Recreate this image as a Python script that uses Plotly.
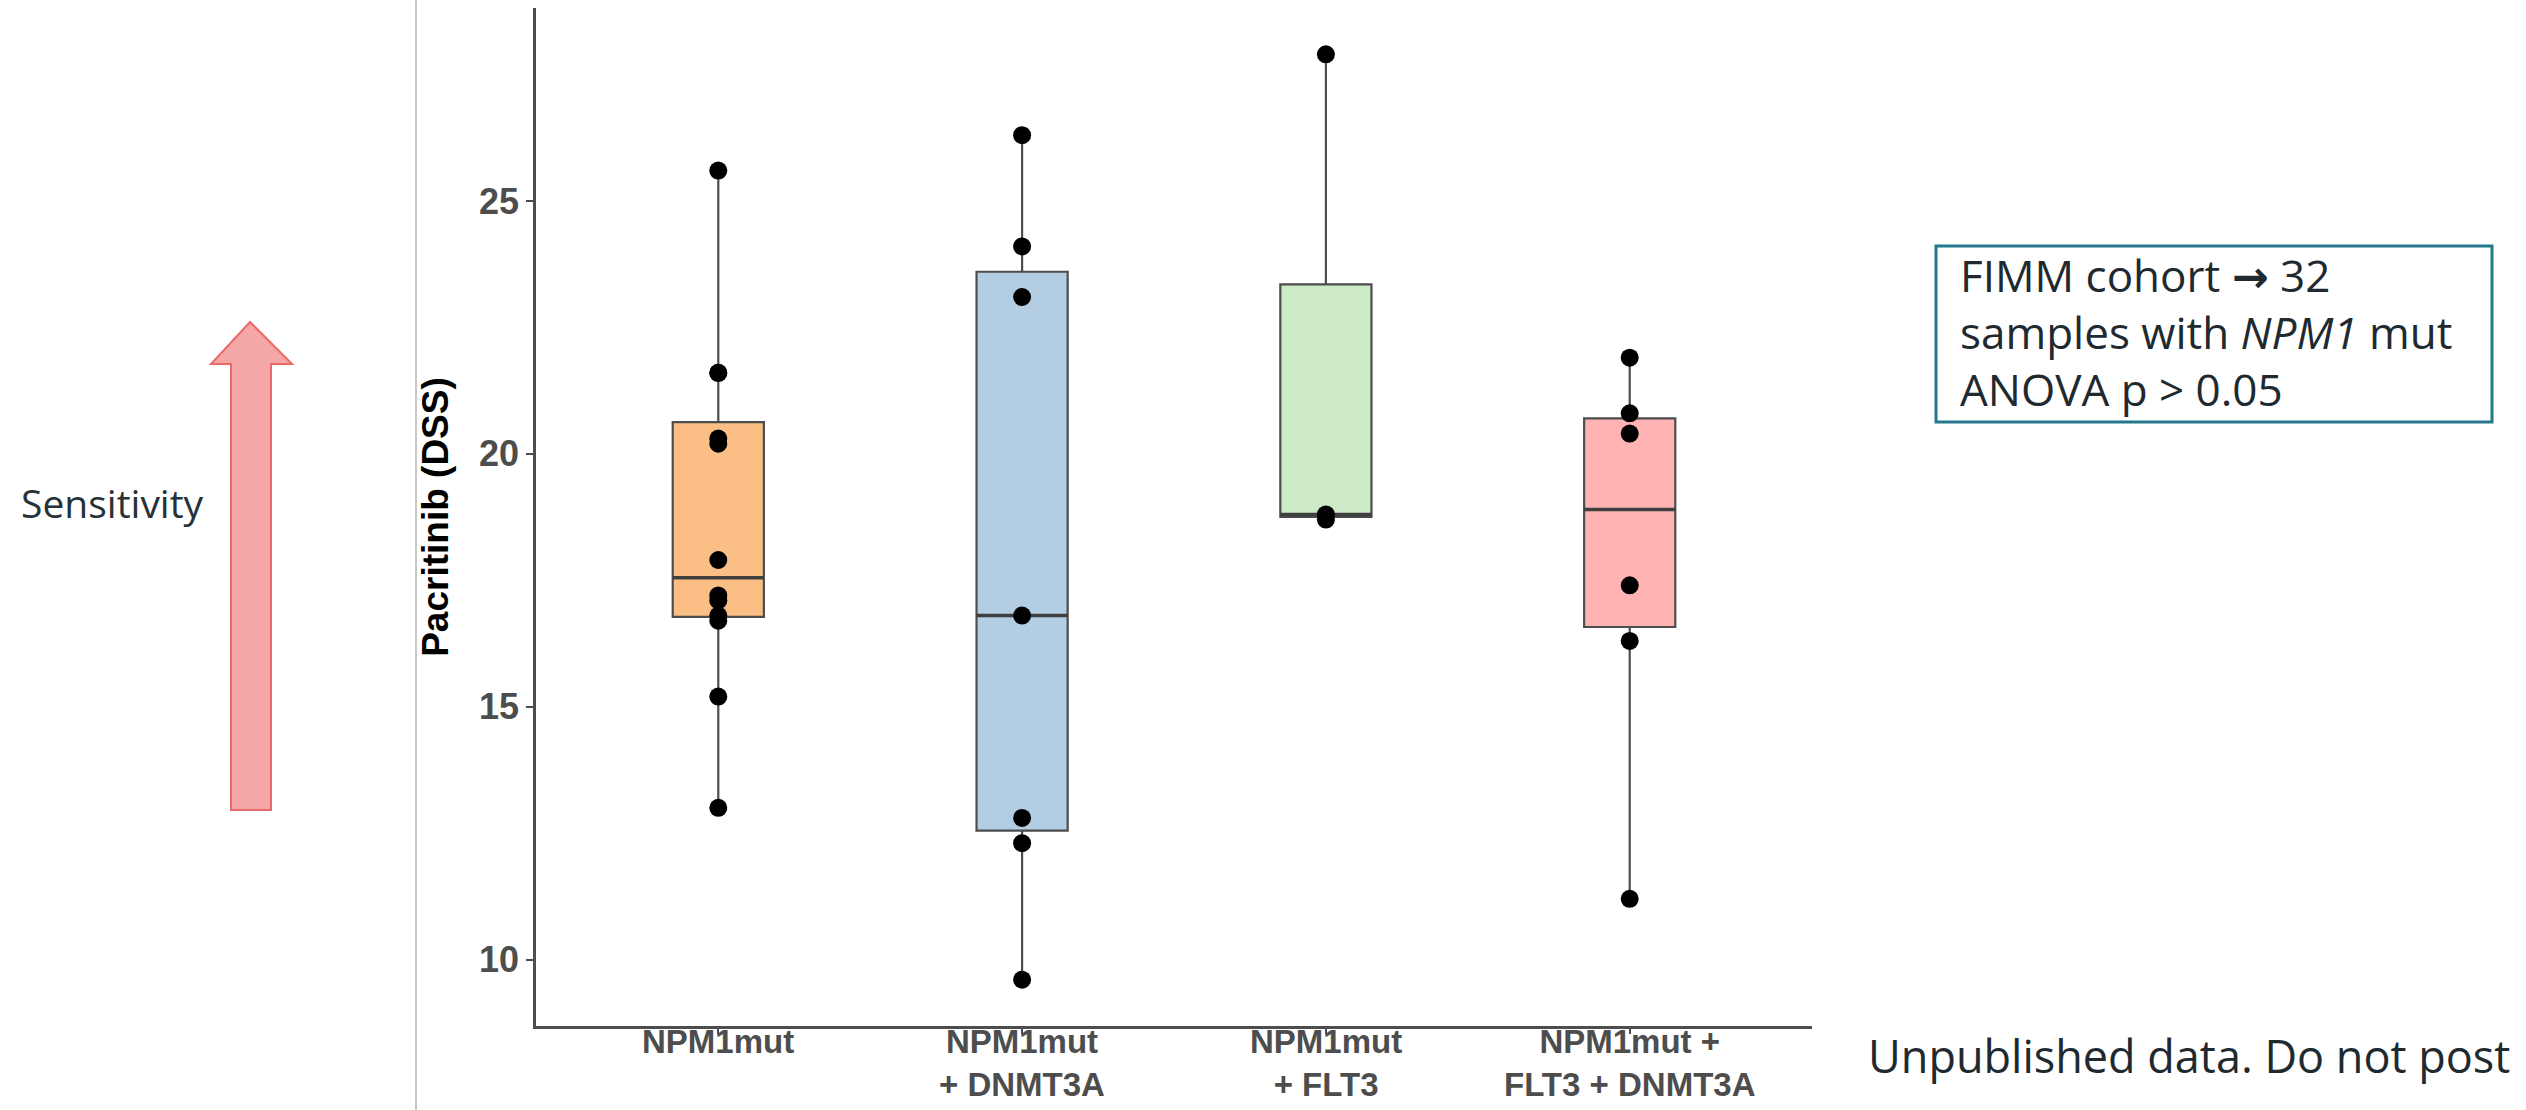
import numpy as np
import plotly.graph_objects as go

# ---------------- data ----------------
categories = ["NPM1mut", "NPM1mut + DNMT3A", "NPM1mut + FLT3", "NPM1mut + FLT3 + DNMT3A"]
tick_labels = ["NPM1mut", "NPM1mut<br>+ DNMT3A", "NPM1mut<br>+ FLT3", "NPM1mut +<br>FLT3 + DNMT3A"]
npm1 = [25.6, 21.6, 21.6, 20.3, 20.2, 17.9, 17.2, 17.1, 16.8, 16.7, 15.2, 13.0]
npm1_dnmt3a = [26.3, 24.1, 23.1, 16.8, 12.8, 12.3, 9.6]
npm1_flt3 = [27.9, 18.8, 18.7]
npm1_flt3_dnmt3a = [21.9, 20.8, 20.4, 17.4, 16.3, 11.2]
y_ticks = [10, 15, 20, 25]

groups = [npm1, npm1_dnmt3a, npm1_flt3, npm1_flt3_dnmt3a]
box_colors = ["#FBBF85", "#B3CDE3", "#CDEAC6", "#FFB3B3"]
line_color = "#4D4D4D"

# ---------------- layout geometry (pixels) ----------------
FIG_W, FIG_H = 2526, 1110
L, R, T, B = 536, 1812, 8, 1026
PW, PH = R - L, B - T


def px(x):
    return (x - L) / PW


def py(y):
    return 1 - (y - T) / PH


fig = go.Figure()
box_w = 0.3
all_vals = []
for i, (vals, col) in enumerate(zip(groups, box_colors)):
    pos = i + 1
    arr = np.array(vals, dtype=float)
    all_vals.extend(vals)
    q1, med, q3 = np.percentile(arr, [25, 50, 75])
    iqr = q3 - q1
    lo = arr[arr >= q1 - 1.5 * iqr].min()
    hi = arr[arr <= q3 + 1.5 * iqr].max()
    fig.add_trace(go.Box(
        x=[pos], q1=[q1], median=[med], q3=[q3], lowerfence=[lo], upperfence=[hi],
        fillcolor=col, line=dict(color=line_color, width=2.2), whiskerwidth=0,
        width=box_w, boxpoints=False, showlegend=False, hoverinfo="skip",
    ))
    # thicker median line as in ggplot
    fig.add_trace(go.Scatter(
        x=[pos - box_w / 2, pos + box_w / 2], y=[med, med], mode="lines",
        line=dict(color="#3f3f3f", width=3.5), showlegend=False, hoverinfo="skip",
    ))

for i, vals in enumerate(groups):
    fig.add_trace(go.Scatter(
        x=[i + 1] * len(vals), y=vals, mode="markers",
        marker=dict(color="black", size=18), showlegend=False,
    ))

ymin, ymax = min(all_vals), max(all_vals)
pad = (ymax - ymin) * 0.05

shapes = []
# light grey vertical divider line
shapes.append(dict(type="line", xref="paper", yref="paper",
                   x0=px(416), x1=px(416), y0=py(0), y1=py(FIG_H),
                   line=dict(color="#C8C8C8", width=2)))
# Sensitivity arrow
pts = [(250, 322), (211, 364), (231, 364), (231, 810), (271, 810), (271, 364), (292, 364)]
path = "M " + " L ".join(f"{px(x):.5f},{py(y):.5f}" for x, y in pts) + " Z"
shapes.append(dict(type="path", xref="paper", yref="paper", path=path,
                   fillcolor="#F4A7A6", line=dict(color="#EA6A6B", width=2)))
# info box
shapes.append(dict(type="rect", xref="paper", yref="paper",
                   x0=px(1936), x1=px(2492), y0=py(246), y1=py(422),
                   line=dict(color="#23788C", width=3), fillcolor="rgba(0,0,0,0)"))

arrow = '<span style="font-family:DejaVu Sans;font-weight:bold">→</span>'
annotations = [
    dict(text="Sensitivity", xref="paper", yref="paper", x=px(19), y=py(503),
         xanchor="left", yanchor="middle", showarrow=False,
         font=dict(family="Open Sans, sans-serif", size=39, color="#263238")),
    dict(text=f"FIMM cohort {arrow} 32<br>samples with <i>NPM1</i> mut<br>ANOVA p &gt; 0.05",
         xref="paper", yref="paper", x=px(1958), y=py(332), xanchor="left", yanchor="middle",
         align="left", showarrow=False,
         font=dict(family="Open Sans, sans-serif", size=44, color="#1f2a30")),
    dict(text="Unpublished data. Do not post", xref="paper", yref="paper",
         x=px(1866), y=py(1055), xanchor="left", yanchor="middle", showarrow=False,
         font=dict(family="Open Sans, sans-serif", size=45, color="#1f2a30")),
]

# category labels below the x axis
tick_font = dict(family="Liberation Sans, Arial, sans-serif", size=36, color=line_color, weight="bold")
label_font = dict(family="Liberation Sans, Arial, sans-serif", size=33, color=line_color, weight="bold")
for i, lab in enumerate(tick_labels):
    annotations.append(dict(text=lab, xref="x", yref="paper", x=i + 1, y=py(1022),
                            xanchor="center", yanchor="top", align="center", showarrow=False,
                            borderpad=0, font=label_font))

fig.update_layout(
    width=FIG_W, height=FIG_H,
    margin=dict(l=L, r=FIG_W - R, t=T, b=FIG_H - B),
    plot_bgcolor="white", paper_bgcolor="white",
    shapes=shapes, annotations=annotations,
    xaxis=dict(range=[0.4, 4.6], tickvals=[1, 2, 3, 4], showticklabels=False, automargin=False,
               showgrid=False, zeroline=False, showline=True, linecolor=line_color, linewidth=2.5,
               ticks="outside", ticklen=5, tickwidth=2, tickcolor=line_color),
    yaxis=dict(range=[ymin - pad, ymax + pad], tickvals=y_ticks, automargin=False,
               showgrid=False, zeroline=False, showline=True, linecolor=line_color, linewidth=2.5,
               ticks="outside", ticklen=7, tickwidth=2, tickcolor=line_color,
               tickfont=tick_font,
               title=dict(text="<b>Pacritinib (DSS)</b>", standoff=20,
                          font=dict(family="Liberation Sans, Arial, sans-serif", size=37,
                                    color="black"))),
)

fig.write_html("out.html")
